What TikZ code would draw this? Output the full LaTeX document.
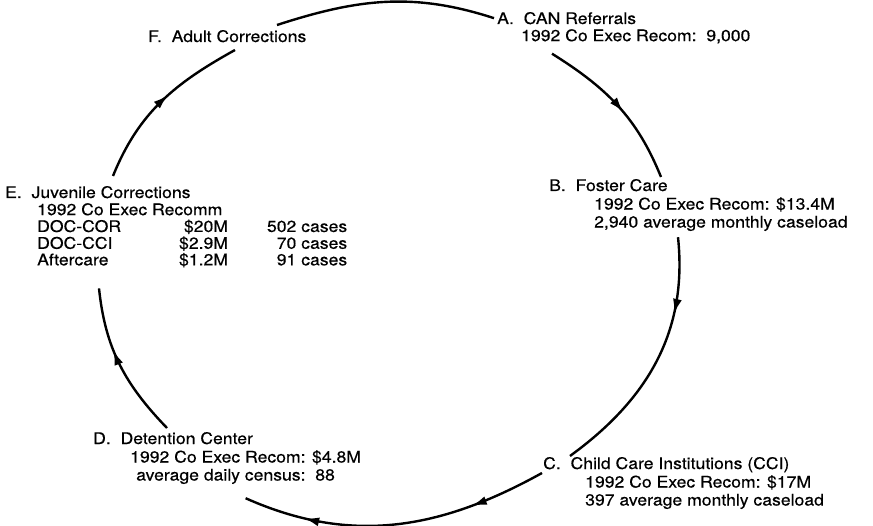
\documentclass[tikz,border=0pt]{standalone}
\usepackage{fontspec}
\setmainfont{TeX Gyre Heros}[FakeStretch=1.1,FakeBold=0.4]
\usetikzlibrary{positioning,arrows.meta,decorations.markings}
\tikzset{
  lbl/.style={inner sep=0pt,anchor=base west,font=\fontsize{16}{18}\selectfont},
  txt/.style={inner sep=0pt,align=left,font=\fontsize{16}{18}\selectfont},
  flow/.style={line width=2.4pt},
  midtip/.style={postaction={decorate,decoration={markings,
    mark=at position #1 with {\arrow{Latex[length=15pt,width=9pt]}}}}}
}
\begin{document}
\begin{tikzpicture}[x=1pt,y=1pt]
\useasboundingbox (0,0) rectangle (873,525);
% headings
\node[lbl] (adult) at (148,483) {F.\ \ Adult Corrections};
\node[lbl] (can) at (497,501) {A.\ \ CAN Referrals};
\node[lbl] (foster) at (549,334) {B.\ \ Foster Care};
\node[lbl] (cci) at (543,56) {C.\ \ Child Care Institutions (CCI)};
\node[lbl] (detention) at (93,81) {D.\ \ Detention Center};
\node[lbl] (juvenile) at (5,327) {E.\ \ Juvenile Corrections};
% details
\node[txt,below right=5pt and 24pt of can.base west] (canbody) {1992 Co Exec Recom:\ \ 9,000};
\node[txt,below right=6pt and 45pt of foster.base west] (fosterbody) {1992 Co Exec Recom: \$13.4M\\2,940 average monthly caseload};
\node[txt,below right=6pt and 42pt of cci.base west] (ccibody) {1992 Co Exec Recom: \$17M\\397 average monthly caseload};
\node[txt,below right=6pt and 37pt of detention.base west] (detentionbody) {1992 Co Exec Recom: \$4.8M\\\hspace*{6pt}average daily census:\ \ 88};
\node[txt,below right=5pt and 32pt of juvenile.base west] (juvenilebody) {\renewcommand{\arraystretch}{0.9}%
\begin{tabular}{@{}l@{\hspace{58pt}}r@{\hspace{39pt}}r@{}}
\multicolumn{3}{@{}l@{}}{1992 Co Exec Recomm}\\
DOC-COR & \smash{\$20M} & 502 cases\\
DOC-CCI & \smash{\$2.9M} & 70 cases\\
Aftercare & \smash{\$1.2M} & 91 cases
\end{tabular}};
% cycle
\draw[flow] ([shift={(129pt,17pt)}]adult.base west) to[out=18,in=162] ([xshift=-3pt]can.west);
\draw[flow,midtip=0.55] ([shift={(31pt,-10pt)}]canbody.south west) to[out=-32,in=112] ([shift={(112pt,14pt)}]foster.base west);
\draw[flow,midtip=0.3] ([shift={(84pt,-6pt)}]fosterbody.south west) to[out=-84,in=36] ([shift={(27pt,13pt)}]cci.base west);
\draw[flow,midtip=0.25,midtip=0.8] ([shift={(-1pt,-4pt)}]cci.base west) to[out=209,in=336] ([yshift=-14pt]detentionbody.south);
\draw[flow,midtip=0.6] ([shift={(74pt,16pt)}]detention.base west) to[out=134,in=276] ([shift={(62pt,-18pt)}]juvenilebody.south west);
\draw[flow,midtip=0.55] ([shift={(108pt,22pt)}]juvenile.base west) to[out=68,in=209] ([shift={(87pt,-8pt)}]adult.base west);
\end{tikzpicture}
\end{document}
